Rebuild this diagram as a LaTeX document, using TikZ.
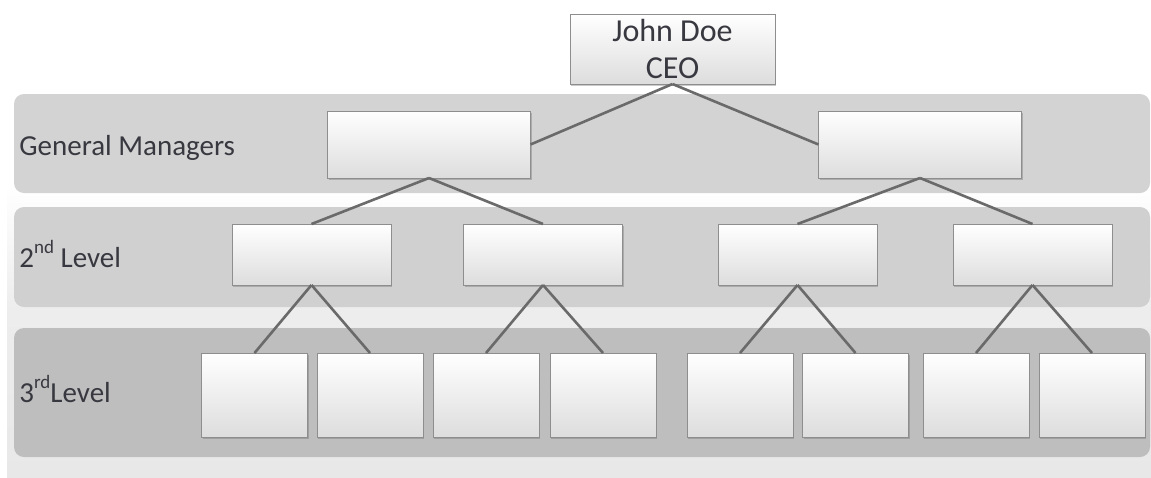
\documentclass[tikz,border=0pt]{standalone}
\usepackage{fontspec}
\setmainfont{Carlito}
\usetikzlibrary{shadows}
\definecolor{bandA}{HTML}{D3D3D3}
\definecolor{bandB}{HTML}{D0D0D0}
\definecolor{bandC}{HTML}{BEBEBE}
\definecolor{bgbot}{HTML}{E8E8E8}
\definecolor{bgmid}{HTML}{EDEDED}
\definecolor{txt}{HTML}{383840}
\definecolor{linec}{HTML}{6A6A6A}
\definecolor{boxedge}{HTML}{8E8E8E}
\definecolor{boxbot}{HTML}{DDDDDD}
\tikzset{
  orgbox/.style={draw=boxedge, line width=0.5pt, top color=white, bottom color=boxbot,
    inner sep=0pt, outer sep=0pt,
    drop shadow={shadow xshift=0.6pt, shadow yshift=-0.8pt, opacity=0.35, fill=black!60}},
  gmbox/.style={orgbox, minimum width=101.5pt, minimum height=33.5pt},
  lvtwo/.style={orgbox, minimum width=79.5pt, minimum height=30.5pt},
  lvthree/.style={orgbox, minimum width=53pt, minimum height=42pt},
  conn/.style={draw=linec, line width=1.3pt},
  band/.style={rounded corners=5pt},
  lvlabel/.style={anchor=base west, inner sep=0pt, text=txt, font=\fontsize{14.5pt}{17pt}\selectfont},
}
\newcommand{\supx}[1]{\raisebox{0.45em}{\fontsize{9.5pt}{9.5pt}\selectfont #1}}
\begin{document}
\begin{tikzpicture}[x=0.5pt, y=-0.5pt]
\useasboundingbox (0,0) rectangle (1151,477);
% background
\fill[white] (0,0) rectangle (1151,477);
\shade[top color=white, bottom color=bgmid] (7,185) rectangle (1151,310);
\shade[top color=bgmid, bottom color=bgbot] (7,310) rectangle (1151,477);
% bands
\fill[bandA, band] (14,94) rectangle (1150,193);
\fill[bandB, band] (14,207) rectangle (1150,307);
\fill[bandC, band] (14,328) rectangle (1150,457);
% labels
\node[lvlabel] (lgm) at (19,155) {General Managers};
\node[lvlabel] (ltwo) at (19,267) {2\supx{nd} Level};
\node[lvlabel] (lthree) at (19,402) {3\supx{rd}Level};
% boxes
\node[orgbox, minimum width=102.5pt, minimum height=35pt, align=center, text=txt,
  font=\fontsize{16pt}{18.5pt}\selectfont] (ceo) at (672.5,49) {John Doe\\CEO};
\node[gmbox] (gma) at (429,144.5) {};
\node[gmbox] (gmb) at (920,144.5) {};
\node[lvtwo] (ba) at (311.5,254.5) {};
\node[lvtwo] (bb) at (543,254.5) {};
\node[lvtwo] (bc) at (797.5,254.5) {};
\node[lvtwo] (bd) at (1032.5,254.5) {};
\node[lvthree] (ca) at (254.5,395) {};
\node[lvthree] (cb) at (370,395) {};
\node[lvthree] (cc) at (486,395) {};
\node[lvthree] (cd) at (603,395) {};
\node[lvthree] (ce) at (740,395) {};
\node[lvthree] (cf) at (855.5,395) {};
\node[lvthree] (cg) at (976,395) {};
\node[lvthree] (ch) at (1092,395) {};
% connectors
\draw[conn] (ceo.south) -- (gma.east);
\draw[conn] (ceo.south) -- (gmb.west);
\draw[conn] (gma.south) -- (ba.north);
\draw[conn] (gma.south) -- (bb.north);
\draw[conn] (gmb.south) -- (bc.north);
\draw[conn] (gmb.south) -- (bd.north);
\draw[conn] (ba.south) -- (ca.north);
\draw[conn] (ba.south) -- (cb.north);
\draw[conn] (bb.south) -- (cc.north);
\draw[conn] (bb.south) -- (cd.north);
\draw[conn] (bc.south) -- (ce.north);
\draw[conn] (bc.south) -- (cf.north);
\draw[conn] (bd.south) -- (cg.north);
\draw[conn] (bd.south) -- (ch.north);
\end{tikzpicture}
\end{document}
